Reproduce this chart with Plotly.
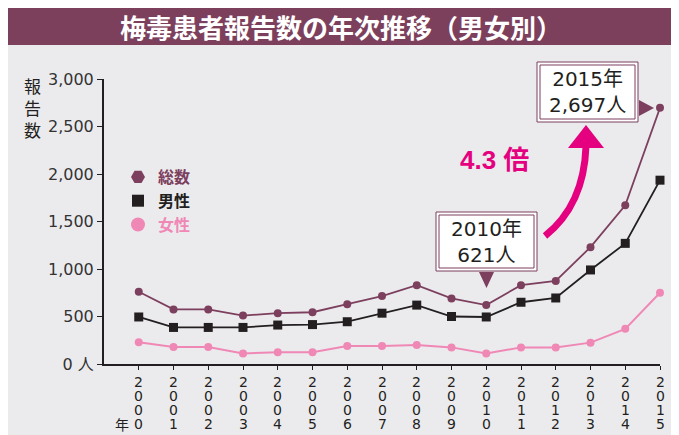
import plotly.graph_objects as go

years = list(range(2000, 2016))
total = [760, 575, 575, 510, 535, 545, 630, 715, 830, 690, 621, 830, 875, 1230, 1670, 2697]
male = [495, 385, 385, 385, 410, 415, 445, 535, 620, 500, 495, 650, 695, 990, 1270, 1935]
female = [230, 180, 180, 110, 125, 125, 190, 190, 200, 175, 110, 175, 175, 225, 370, 750]
y_tickvals = [0, 500, 1000, 1500, 2000, 2500, 3000]
y_ticktext = ["0 人", "500", "1,000", "1,500", "2,000", "2,500", "3,000"]
series_names = ["総数", "男性", "女性"]

MAROON = "#7d3f5e"
BLACK = "#231f20"
PINK = "#f088b6"
MAGENTA = "#e4007f"
GRAY = "#ebebee"
WIDE = "DejaVu Sans, Noto Sans CJK JP, sans-serif"
LATIN = "Liberation Sans, Noto Sans CJK JP, sans-serif"
CJK = "Noto Sans CJK JP, sans-serif"

FW, FH = 679, 435
OFF = 8                      # page body margin
SL, ST, W, H = 104, 79, 556, 285   # plot area in screen pixels
ML, MT = SL - OFF, ST - OFF
MR = FW - ML - W
MB = FH - MT - H


def px(x):
    return (x - SL) / W


def py(y):
    return (ST + H - y) / H


fig = go.Figure()

fig.add_trace(go.Scatter(x=years, y=female, mode="lines+markers", showlegend=False,
                         line=dict(color=PINK, width=2), marker=dict(color=PINK, size=8),
                         cliponaxis=False))
fig.add_trace(go.Scatter(x=years, y=total, mode="lines+markers", showlegend=False,
                         line=dict(color=MAROON, width=1.8), marker=dict(color=MAROON, size=8),
                         cliponaxis=False))
fig.add_trace(go.Scatter(x=years, y=male, mode="lines+markers", showlegend=False,
                         line=dict(color=BLACK, width=1.8),
                         marker=dict(color=BLACK, size=9, symbol="square"),
                         cliponaxis=False))

# legend-only entries
leg = [(series_names[0], MAROON, "hexagon2", 14),
       (series_names[1], BLACK, "square", 12),
       (series_names[2], PINK, "circle", 14)]
for i, (nm, col, sym, sz) in enumerate(leg):
    fig.add_trace(go.Scatter(x=[None], y=[None], mode="markers",
                             name=f"<b><span style='color:{col}'>{nm}</span></b>",
                             legendgroup=f"g{i}",
                             marker=dict(color=col, symbol=sym, size=sz)))

shapes = []
# title bar
shapes.append(dict(type="rect", xref="paper", yref="paper", layer="below",
                   x0=px(OFF), x1=px(FW + OFF), y0=py(45), y1=py(OFF),
                   fillcolor="#7d405c", line=dict(width=0)))


def box(x0, y0, x1, y1):
    shapes.append(dict(type="rect", xref="paper", yref="paper",
                       x0=px(x0), x1=px(x1), y0=py(y1), y1=py(y0),
                       fillcolor="white", line=dict(color=MAROON, width=1)))
    shapes.append(dict(type="rect", xref="paper", yref="paper",
                       x0=px(x0 + 3), x1=px(x1 - 3), y0=py(y1 - 3), y1=py(y0 + 3),
                       line=dict(color=MAROON, width=1)))


def tri(pts, col):
    d = "M " + " L ".join(f"{px(a):.5f},{py(b):.5f}" for a, b in pts) + " Z"
    shapes.append(dict(type="path", xref="paper", yref="paper", path=d,
                       fillcolor=col, line=dict(color=col, width=0)))


box(537, 62, 638, 122)
tri([(639, 100), (654, 108), (639, 116)], MAROON)
box(436, 212, 537, 271)
tri([(479, 272), (494, 272), (486.5, 288)], MAROON)

# curved magenta arrow
shapes.append(dict(type="path", xref="paper", yref="paper",
                   path=f"M {px(545):.5f},{py(236):.5f} Q {px(584):.5f},{py(205):.5f} {px(586):.5f},{py(146):.5f}",
                   line=dict(color=MAGENTA, width=7)))
tri([(568, 148), (604, 148), (586, 125)], MAGENTA)

annotations = []
annotations.append(dict(xref="paper", yref="paper", x=px(341), y=py(26),
                        text="<b>梅毒患者報告数の年次推移（男女別）</b>", showarrow=False,
                        font=dict(family=CJK, size=26, color="white"),
                        xanchor="center", yanchor="middle"))
annotations.append(dict(xref="paper", yref="paper", x=px(32), y=py(107),
                        text="報<br>告<br>数", showarrow=False,
                        font=dict(family=CJK, size=17, color=BLACK),
                        xanchor="center", yanchor="middle"))
annotations.append(dict(xref="paper", yref="paper", x=px(587.5), y=py(92),
                        text="2015年<br>2,697人", showarrow=False,
                        font=dict(family=WIDE, size=20, color=BLACK),
                        xanchor="center", yanchor="middle"))
annotations.append(dict(xref="paper", yref="paper", x=px(486.5), y=py(241.5),
                        text="2010年<br>621人", showarrow=False,
                        font=dict(family=WIDE, size=20, color=BLACK),
                        xanchor="center", yanchor="middle"))
annotations.append(dict(xref="paper", yref="paper", x=px(494), y=py(160),
                        text="<b>4.3 倍</b>", showarrow=False,
                        font=dict(family=LATIN, size=26, color=MAGENTA),
                        xanchor="center", yanchor="middle"))

# vertical x tick labels
for yr in years:
    for i, ch in enumerate(str(yr)):
        annotations.append(dict(xref="x", yref="paper", x=yr, y=0, yshift=-(18 + 14 * i),
                                text=ch, showarrow=False,
                                font=dict(family=WIDE, size=14, color=BLACK),
                                xanchor="center", yanchor="middle"))
annotations.append(dict(xref="x", yref="paper", x=years[0], y=0, xshift=-17, yshift=-(18 + 14 * 3),
                        text="年", showarrow=False,
                        font=dict(family=CJK, size=14, color=BLACK),
                        xanchor="center", yanchor="middle"))

fig.update_layout(
    width=FW, height=FH,
    margin=dict(l=ML, r=MR, t=MT, b=MB),
    paper_bgcolor=GRAY, plot_bgcolor="rgba(0,0,0,0)",
    shapes=shapes, annotations=annotations,
    showlegend=True,
    legend=dict(x=px(118), y=py(160), xanchor="left", yanchor="top",
                bgcolor="rgba(0,0,0,0)", font=dict(family=CJK, size=16),
                tracegroupgap=0, itemsizing="trace"),
    xaxis=dict(range=[1999, 2015], showgrid=False, zeroline=False,
               showline=True, linecolor=BLACK, linewidth=2,
               tickvals=years, showticklabels=False,
               ticks="outside", ticklen=4, tickcolor=BLACK, tickwidth=1),
    yaxis=dict(range=[0, 3000], showgrid=False, zeroline=False,
               showline=True, linecolor=BLACK, linewidth=2,
               tickvals=y_tickvals, ticktext=y_ticktext,
               ticks="outside", ticklen=5, tickcolor=BLACK, tickwidth=1,
               tickfont=dict(family=WIDE, size=16, color="#333333")),
)

fig.write_html("out.html")
